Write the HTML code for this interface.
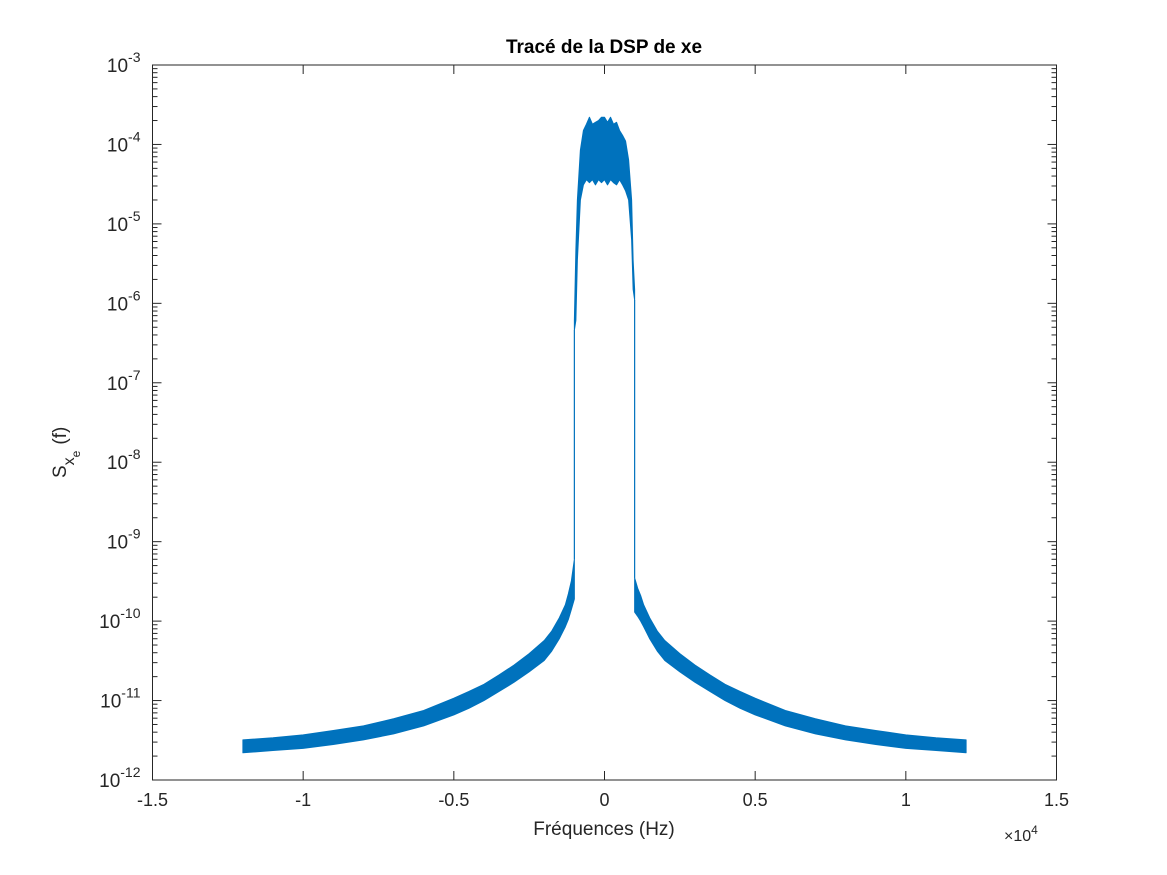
<!DOCTYPE html>
<html><head><meta charset="utf-8"><style>
html,body{margin:0;padding:0;background:#fff;}
svg{display:block;font-family:"Liberation Sans",sans-serif;}
</style></head><body>
<svg id="chart" width="1167" height="875" viewBox="0 0 1167 875">
  <text x="604" y="53" text-anchor="middle" font-size="19" font-weight="bold" fill="#000">Tracé de la DSP de xe</text>
  <text x="604" y="835" text-anchor="middle" font-size="19" fill="#262626">Fréquences (Hz)</text>
  <text x="1004" y="841" font-size="16" fill="#262626">×10<tspan dy="-7" font-size="12">4</tspan></text>
  <text transform="translate(66,478) rotate(-90)" font-size="19" fill="#262626">S<tspan dy="8" font-size="16">x</tspan><tspan dy="6" font-size="12">e</tspan><tspan dy="-14" dx="6" font-size="19">(f)</tspan></text>
</svg>
<script>
// ---- data ----
const xTicks = [-1.5,-1,-0.5,0,0.5,1,1.5];
const xTickLabels = ['-1.5','-1','-0.5','0','0.5','1','1.5'];
const yDecades = [-12,-11,-10,-9,-8,-7,-6,-5,-4,-3];
const tailFreqL = [-12000,-11000,-10000,-9000,-8000,-7000,-6000,-5000,-4500,-4000,-3500,-3000,-2500,-2000,-1750,-1500,-1300,-1200,-1100,-1000];
const tailTopL  = [3.2e-12,3.4e-12,3.7e-12,4.2e-12,4.8e-12,5.9e-12,7.5e-12,1.07e-11,1.3e-11,1.6e-11,2.1e-11,2.8e-11,3.9e-11,5.7e-11,7.5e-11,1.1e-10,1.6e-10,2.2e-10,3.2e-10,6e-10];
const tailBotL  = [2.2e-12,2.35e-12,2.5e-12,2.8e-12,3.2e-12,3.8e-12,4.8e-12,6.6e-12,8e-12,1.0e-11,1.3e-11,1.7e-11,2.3e-11,3.2e-11,4.2e-11,6e-11,8.5e-11,1.05e-10,1.4e-10,1.9e-10];
const tailFreqR = [1000,1100,1200,1300,1500,1750,2000,2500,3000,3500,4000,4500,5000,6000,7000,8000,9000,10000,11000,12000];
const tailTopR  = [3.5e-10,2.6e-10,2.1e-10,1.6e-10,1.1e-10,7.5e-11,5.7e-11,3.9e-11,2.8e-11,2.1e-11,1.6e-11,1.3e-11,1.07e-11,7.5e-12,5.9e-12,4.8e-12,4.2e-12,3.7e-12,3.4e-12,3.2e-12];
const tailBotR  = [1.3e-10,1.15e-10,1.0e-10,8.5e-11,6e-11,4.2e-11,3.2e-11,2.3e-11,1.7e-11,1.3e-11,1.0e-11,8e-12,6.6e-12,4.8e-12,3.8e-12,3.2e-12,2.8e-12,2.5e-12,2.35e-12,2.2e-12];
const coreFreq  = [-1000,-950,-900,-800,-700,-600,-500,-400,-300,-200,-100,0,100,200,300,400,500,600,700,800,900,950,1000];
const coreTop   = [6.1e-7,4.7e-6,2e-5,8.5e-5,1.5e-4,1.8e-4,2.2e-4,1.8e-4,1.9e-4,2.0e-4,2.2e-4,2.2e-4,1.9e-4,2.2e-4,1.8e-4,1.9e-4,1.5e-4,1.3e-4,1.1e-4,6.4e-5,2e-5,3.5e-6,1.5e-6];
const coreBot   = [4.6e-7,6.1e-7,3.5e-6,2e-5,3.1e-5,3.6e-5,3.3e-5,3.6e-5,3.1e-5,3.6e-5,3.3e-5,3.6e-5,3.1e-5,3.6e-5,3.3e-5,3.1e-5,3.6e-5,3.1e-5,2.6e-5,2e-5,6.3e-6,1.5e-6,1.1e-6];

// ---- layout ----
const L=152.5,R=1056.5,T=65,B=780;
const NS='http://www.w3.org/2000/svg';
const svg=document.getElementById('chart');
const X=f=>L+(f/1e4+1.5)/3*(R-L);
const Y=v=>T+(-3-Math.log10(v))/9*(B-T);
function mk(tag,attrs,parent){const e=document.createElementNS(NS,tag);for(const k in attrs)e.setAttribute(k,attrs[k]);(parent||svg).appendChild(e);return e;}

const color='#0072BD';
function band(fr,top,bot,name){
  let pts=fr.map((f,i)=>X(f)+','+Y(top[i]));
  for(let i=fr.length-1;i>=0;i--)pts.push(X(fr[i])+','+Y(bot[i]));
  const p=mk('polygon',{points:pts.join(' '),fill:color,stroke:color,'stroke-width':1,'stroke-linejoin':'round'});
  
  
}
band(tailFreqL,tailTopL,tailBotL,'left-tail-band');
band(tailFreqR,tailTopR,tailBotR,'right-tail-band');
band(coreFreq,coreTop,coreBot,'core-band');
const c1=mk('line',{x1:X(coreFreq[0]),y1:Y(coreBot[0]),x2:X(tailFreqL[tailFreqL.length-1]),y2:Y(tailTopL[tailTopL.length-1]),stroke:color,'stroke-width':1.2});


const c2=mk('line',{x1:X(coreFreq[coreFreq.length-1]),y1:Y(coreBot[coreBot.length-1]),x2:X(tailFreqR[0]),y2:Y(tailTopR[0]),stroke:color,'stroke-width':1.2});



const box=mk('rect',{x:L,y:T,width:R-L,height:B-T,fill:'none',stroke:'#262626','stroke-width':1});



xTicks.forEach((t,i)=>{
  const x=L+(t+1.5)/3*(R-L);
  mk('line',{x1:x,y1:B,x2:x,y2:B-9,stroke:'#262626'});
  mk('line',{x1:x,y1:T,x2:x,y2:T+9,stroke:'#262626'});
  const tx=mk('text',{x:x,y:B+26,'text-anchor':'middle','font-size':18,fill:'#262626'});
  tx.textContent=xTickLabels[i];
  
  
});
yDecades.forEach(d=>{
  const y=Y(Math.pow(10,d));
  mk('line',{x1:L,y1:y,x2:L+9,y2:y,stroke:'#262626'});
  mk('line',{x1:R,y1:y,x2:R-9,y2:y,stroke:'#262626'});
  if(d<-3){for(let m=2;m<=9;m++){const ym=Y(m*Math.pow(10,d));
    mk('line',{x1:L,y1:ym,x2:L+5,y2:ym,stroke:'#262626'});
    mk('line',{x1:R,y1:ym,x2:R-5,y2:ym,stroke:'#262626'});}}
  const tx=mk('text',{x:L-12,y:y+7,'text-anchor':'end','font-size':19,fill:'#262626'});
  
  
  const a=document.createElementNS(NS,'tspan');a.textContent='10';tx.appendChild(a);
  const s=document.createElementNS(NS,'tspan');s.setAttribute('dy','-10');s.setAttribute('font-size','14');s.textContent=String(d);tx.appendChild(s);
});
</script>
</body></html>
